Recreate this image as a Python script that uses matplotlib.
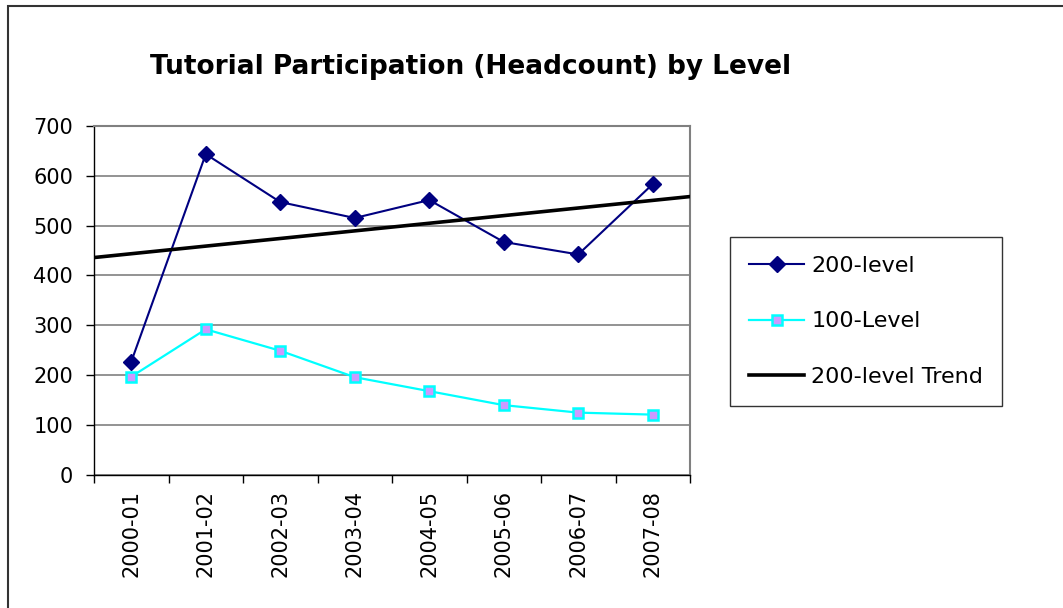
import numpy as np
import matplotlib
matplotlib.use("Agg")
import matplotlib.pyplot as plt
from matplotlib.patches import Rectangle

# data
years = ["2000-01", "2001-02", "2002-03", "2003-04",
         "2004-05", "2005-06", "2006-07", "2007-08"]
level_200 = [227, 643, 547, 515, 551, 467, 442, 583]
level_100 = [197, 292, 249, 196, 168, 140, 125, 121]

plt.rcParams['font.family'] = ['DejaVu Sans']

W, H = 1063, 608
fig = plt.figure(figsize=(W / 100, H / 100), dpi=100)
fig.patch.set_facecolor("white")

# plot area in pixels: x 94..690, y 125.7..475
ax = fig.add_axes([94 / W, (H - 475) / H, (690 - 94) / W, (475 - 125.7) / H])

x = np.arange(len(years))

# linear trend of the 200-level series (like the Excel trendline)
slope, icpt = np.polyfit(x, level_200, 1)
tx = np.array([-0.5, len(years) - 0.5])

ax.plot(x, level_200, color="#000080", lw=1.5, marker="D", ms=8.5,
        mfc="#000080", mec="#000080", label="200-level", zorder=4)
ax.plot(x, level_100, color="#00FFFF", lw=1.6, marker="s", ms=7.5,
        mfc="#CC99FF", mec="#00FFFF", mew=1.8, label="100-Level", zorder=3)
ax.plot(tx, slope * tx + icpt, color="black", lw=2.6,
        label="200-level Trend", zorder=5)

ax.set_xlim(-0.5, len(years) - 0.5)
ax.set_ylim(0, 700)
ax.set_yticks(range(0, 701, 100))
ax.yaxis.grid(True, color="#808080", lw=1.2)
ax.set_axisbelow(True)

# category boundaries get the tick marks, centres get the labels
ax.set_xticks(np.arange(-0.5, len(years), 1.0))
ax.set_xticklabels([])
ax.set_xticks(x, minor=True)
ax.set_xticklabels(years, minor=True, rotation=90, fontsize=15)
ax.tick_params(axis="x", which="minor", length=0, pad=11)
ax.tick_params(axis="x", which="major", length=6, width=1, direction="out")
ax.tick_params(axis="y", length=6, width=1, direction="out", labelsize=15, pad=9)

for side in ["top", "right"]:
    ax.spines[side].set_color("#808080")
    ax.spines[side].set_linewidth(1.5)
for side in ["left", "bottom"]:
    ax.spines[side].set_color("black")
    ax.spines[side].set_linewidth(1)

fig.text(471 / W, 1 - 67 / H, "Tutorial Participation (Headcount) by Level",
         ha="center", va="center", fontsize=19, fontweight="bold")

leg = fig.legend(loc="upper left", bbox_to_anchor=(730 / W, 1 - 237 / H),
                 fontsize=16, frameon=True, fancybox=False, handlelength=2.5,
                 handletextpad=0.3, labelspacing=1.6, borderpad=0.85,
                 borderaxespad=0)
leg.get_frame().set_edgecolor("black")
leg.get_frame().set_linewidth(1)

# outer chart border (left, top and right edge run off the image)
fig.patches.append(Rectangle((7.5 / W, -0.05), (W - 4) / W, 1 - 5.5 / H + 0.05,
                             transform=fig.transFigure, fill=False,
                             ec="#333333", lw=1.5))

fig.savefig("out.png", dpi=100, facecolor="white")
